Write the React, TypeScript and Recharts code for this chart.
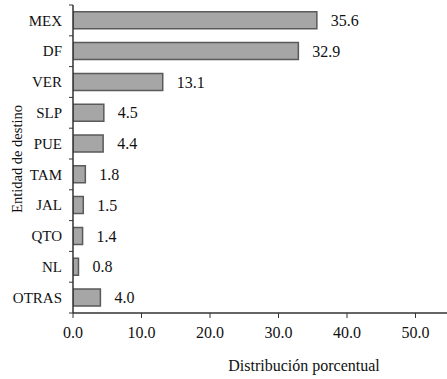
import { Bar, BarChart, LabelList, XAxis, YAxis } from "recharts";

const categories = ["MEX", "DF", "VER", "SLP", "PUE", "TAM", "JAL", "QTO", "NL", "OTRAS"];
const shares = [35.6, 32.9, 13.1, 4.5, 4.4, 1.8, 1.5, 1.4, 0.8, 4.0];
const xTicks = [0, 10, 20, 30, 40, 50];

const WIDTH = 447;
const HEIGHT = 379;
const PLOT_LEFT = 73;
const PLOT_TOP = 5;
const X_AXIS_HEIGHT = 66;
const PLOT_HEIGHT = HEIGHT - PLOT_TOP - X_AXIS_HEIGHT;
const BAND = PLOT_HEIGHT / categories.length;

const FONT = "Liberation Serif, DejaVu Serif, serif";
const AXIS = "#333333";
const BAR_FILL = "#a6a6a6";
const BAR_STROKE = "#5a5a5a";

const data = categories.map((name, i) => ({ name, value: shares[i] }));

// category labels + boundary tick marks (ticks sit between bands, not at centres)
function CategoryTick(props: any) {
  const { y, payload, index } = props;
  const top = y - BAND / 2;
  return (
    <g>
      <line x1={PLOT_LEFT - 4} x2={PLOT_LEFT} y1={top} y2={top} stroke={AXIS} />
      {index === categories.length - 1 && (
        <line x1={PLOT_LEFT - 4} x2={PLOT_LEFT} y1={top + BAND} y2={top + BAND} stroke={AXIS} />
      )}
      <text
        x={PLOT_LEFT - 11}
        y={y}
        dy="0.35em"
        textAnchor="end"
        style={{ fontFamily: FONT, fontSize: 15 }}
        fill="#111"
      >
        {payload.value}
      </text>
    </g>
  );
}

export default function App() {
  return (
    <div
      style={{
        position: "fixed",
        left: 0,
        top: 0,
        width: WIDTH,
        height: HEIGHT,
        background: "#fff",
        fontFamily: FONT,
      }}
    >
      <BarChart
        width={WIDTH}
        height={HEIGHT}
        data={data}
        layout="vertical"
        barCategoryGap="22%"
        margin={{ top: PLOT_TOP, right: 0, bottom: 0, left: 0 }}
        style={{ fontFamily: FONT }}
      >
        <XAxis
          type="number"
          domain={[0, 54.6]}
          ticks={xTicks}
          allowDataOverflow
          tickFormatter={(v: number) => v.toFixed(1)}
          height={X_AXIS_HEIGHT}
          axisLine={{ stroke: AXIS, strokeWidth: 1.5 }}
          tickLine={{ stroke: AXIS }}
          tickSize={5}
          tickMargin={9}
          tick={{ fill: "#111", fontSize: 16, style: { fontFamily: FONT } }}
          label={{
            content: () => (
              <text x={304} y={371} textAnchor="middle" style={{ fontFamily: FONT, fontSize: 16 }} fill="#111">
                Distribución porcentual
              </text>
            ),
          }}
        />
        <XAxis
          xAxisId="top"
          orientation="top"
          type="number"
          domain={[0, 54.6]}
          height={0}
          tick={false}
          tickLine={false}
          axisLine={{ stroke: "#777", strokeWidth: 2 }}
        />
        <YAxis
          type="category"
          dataKey="name"
          width={PLOT_LEFT}
          axisLine={{ stroke: AXIS, strokeWidth: 1.5 }}
          tickLine={false}
          interval={0}
          tick={<CategoryTick />}
          label={{
            content: () => (
              <text
                x={0}
                y={0}
                transform={`translate(22, ${PLOT_TOP + PLOT_HEIGHT / 2}) rotate(-90)`}
                textAnchor="middle"
                style={{ fontFamily: FONT, fontSize: 14.5 }}
                fill="#111"
              >
                Entidad de destino
              </text>
            ),
          }}
        />
        <Bar dataKey="value" fill={BAR_FILL} stroke={BAR_STROKE} strokeWidth={1.5} isAnimationActive={false}>
          <LabelList
            dataKey="value"
            position="right"
            offset={14}
            formatter={(v: number) => v.toFixed(1)}
            style={{ fontFamily: FONT, fontSize: 16, fill: "#111" }}
          />
        </Bar>
      </BarChart>
    </div>
  );
}
